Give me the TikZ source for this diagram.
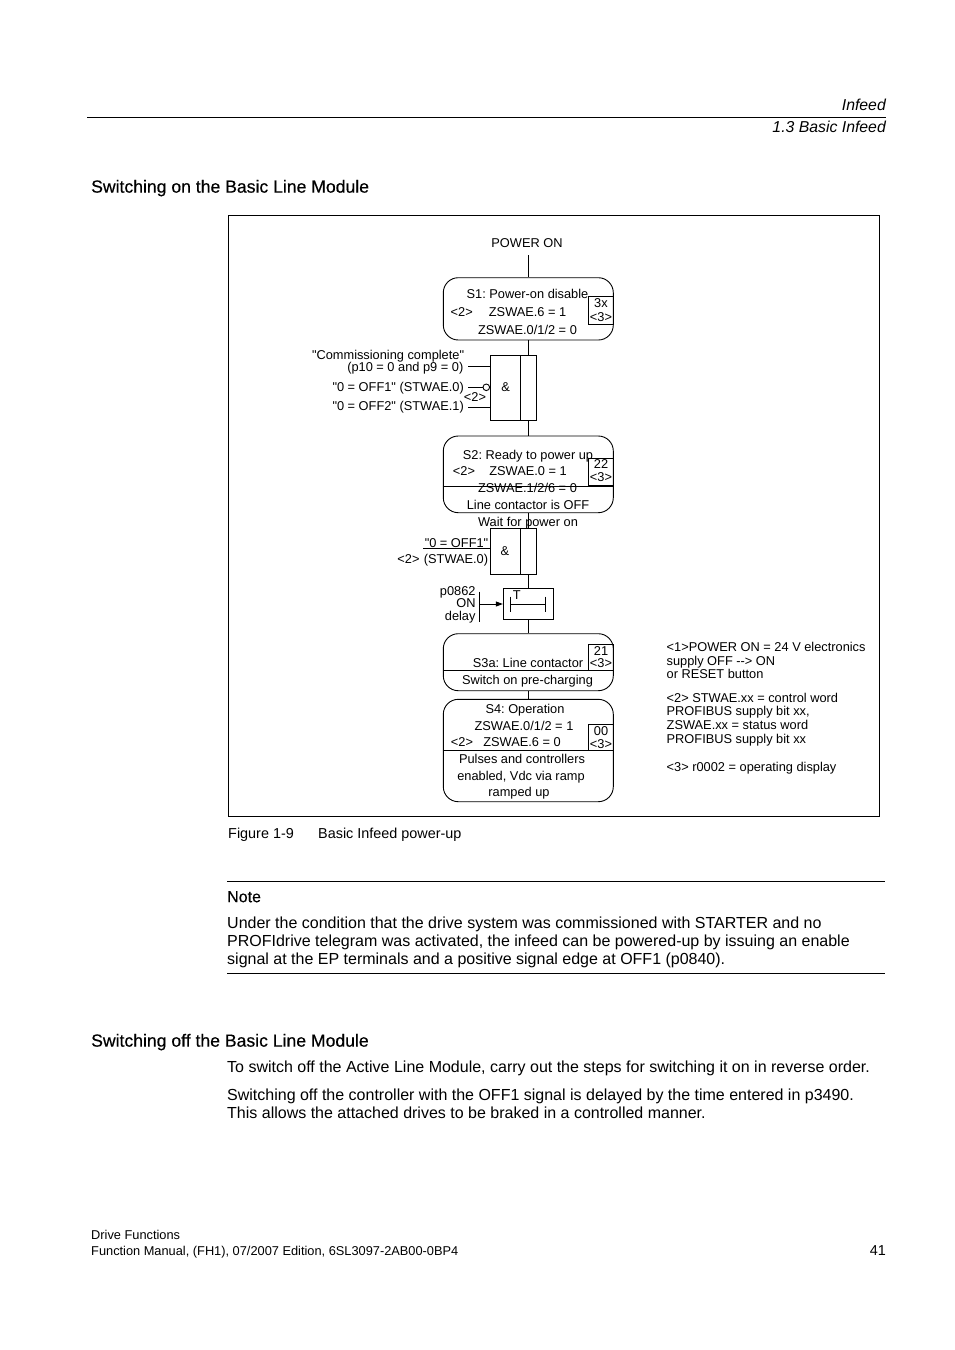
\documentclass[tikz,border=0pt]{standalone}
\usepackage{fontspec}
\setmainfont{Liberation Sans}
\newfontfamily\qfont{Liberation Sans}
\newfontfamily\headfont{Liberation Sans}[FakeBold=0.4]
\usetikzlibrary{arrows.meta}
\newcommand{\qq}{{\qfont"}}
\begin{document}
\frenchspacing
\begin{tikzpicture}[x=1pt,y=-1pt,
  dg/.style={font=\fontsize{12.8}{15}\selectfont, inner sep=0pt, anchor=mid, yshift=-2.5pt},
  dgl/.style={dg, anchor=mid west},
  dgr/.style={dg, anchor=mid east},
  body/.style={font=\fontsize{16}{18}\selectfont, inner sep=0pt, anchor=mid west, yshift=-3.5pt},
  head/.style={font=\headfont\fontsize{17.6}{20}\selectfont, inner sep=0pt, anchor=mid west, yshift=-4pt},
  hdr/.style={font=\fontsize{15.8}{18}\selectfont\itshape, inner sep=0pt, anchor=mid east, yshift=-3.5pt},
  state/.style={draw, rounded corners=15pt, minimum width=170pt, inner sep=0pt, line width=0.9pt},
  gate/.style={draw, minimum width=46pt, inner sep=0pt, line width=0.9pt},
  codebox/.style={draw, minimum width=24.6pt, inner sep=0pt, line width=0.9pt},
  wire/.style={line width=0.9pt},
  rule/.style={line width=1pt},
]
\useasboundingbox (0,0) rectangle (954,1350);

% ---------- page header ----------
\node[hdr] (hd1) at (886,104) {Infeed};
\node[hdr] (hd2) at (886,126) {1.3 Basic Infeed};
\coordinate (hl1) at (87,117);
\coordinate (hl2) at (886,117);
\draw[rule] (hl1) -- (hl2);

\node[head] (h1) at (91,186) {Switching on the Basic Line Module};

% ---------- figure frame ----------
\node[draw, line width=0.9pt, minimum width=651pt, minimum height=601pt, inner sep=0pt] (frame) at (553.5,515.5) {};

% ---------- POWER ON ----------
\node[dg] (pon) at (527,242) {POWER ON};
\coordinate (ponb) at (528.3,255);

% ---------- S1 ----------
\node[state, minimum height=62.3pt] (s1) at (528.3,308.85) {};
\node[codebox, minimum height=27.6pt] (c1) at (601,310.5) {};
\node[dg] (s1a) at (527.5,293.3) {S1: Power-on disable};
\node[dg] (s1b) at (461.7,311.7) {<2>};
\node[dg] (s1c) at (527.6,311.7) {ZSWAE.6 = 1};
\node[dg] (s1d) at (527.5,329.3) {ZSWAE.0/1/2 = 0};
\node[dg] (c1a) at (601,302.7) {3x};
\node[dg] (c1b) at (601,316) {<3>};
\draw[wire] (ponb) -- (ponb |- s1.north);

% ---------- AND gate 1 ----------
\node[gate, minimum height=65pt] (g1) at (513,387.5) {};
\draw[wire] (520.7,355) -- (520.7,420);
\node[dg] (g1amp) at (505.7,386.7) {\&};
\draw[wire] (s1.south -| ponb) -- (g1.north -| ponb);
\coordinate (i1) at (468,366.7);
\coordinate (i2) at (468,387.3);
\coordinate (i3) at (468,407.7);
\node[circle, draw, line width=0.9pt, minimum size=6.6pt, inner sep=0pt] (neg) at (486.3,387.3) {};
\draw[wire] (i1) -- (i1 -| g1.west);
\draw[wire] (i2) -- (neg.west);
\draw[wire] (neg.east) -- (neg.east -| g1.west);
\draw[wire] (i3) -- (i3 -| g1.west);
\node[dg] (g1n) at (475,396.7) {<2>};
\node[dgr] (l1a) at (464.3,354) {\qq Commissioning complete\qq};
\node[dgr] (l1b) at (463.5,366.5) {(p10 = 0 and p9 = 0)};
\node[dgr] (l1c) at (464,386.7) {\qq 0 = OFF1\qq\ (STWAE.0)};
\node[dgr] (l1d) at (464,405.7) {\qq 0 = OFF2\qq\ (STWAE.1)};

% ---------- S2 ----------
\node[state, minimum height=76.7pt] (s2) at (528.3,474.35) {};
\draw[wire] (s2.west |- 0,486) -- (s2.east |- 0,486);
\node[codebox, minimum height=27pt] (c2) at (601,471.5) {};
\draw[wire] (g1.south -| ponb) -- (s2.north -| ponb);
\node[dg] (s2a) at (528,454) {S2: Ready to power up};
\node[dg] (s2b) at (464,470.7) {<2>};
\node[dg] (s2c) at (528,470.7) {ZSWAE.0 = 1};
\node[dg] (s2d) at (527.5,487.3) {ZSWAE.1/2/6 = 0};
\node[dg] (s2e) at (528,504) {Line contactor is OFF};
\node[dg] (c2a) at (601,463.7) {22};
\node[dg] (c2b) at (601,476.7) {<3>};

% ---------- AND gate 2 ----------
\node[gate, minimum height=46pt] (g2) at (513,551.5) {};
\draw[wire] (520.7,528.5) -- (520.7,574.5);
\node[dg] (g2amp) at (505,550) {\&};
\draw[wire] (s2.south -| ponb) -- (g2.north -| ponb);
\node[dg] (wait) at (528,521) {Wait for power on};
\coordinate (i4) at (423,548);
\draw[wire] (i4) -- (i4 -| g2.west);
\node[dg] (l2a) at (456.5,542.5) {\qq 0 = OFF1\qq};
\node[dg] (l2b) at (456,558) {(STWAE.0)};
\node[dg] (l2c) at (408.5,558) {<2>};

% ---------- ON delay ----------
\node[draw, line width=0.9pt, minimum width=50pt, minimum height=31pt, inner sep=0pt] (tb) at (528.3,603.5) {};
\draw[wire] (g2.south -| ponb) -- (tb.north -| ponb);
\node[dg] (tbt) at (516.7,594.5) {T};
\draw[wire] (510.7,604) -- (545,604);
\draw[wire] (510.7,596.7) -- (510.7,611.7);
\draw[wire] (545,596.7) -- (545,611.7);
\coordinate (dv1) at (479.3,591.7);
\coordinate (dv2) at (479.3,621.7);
\draw[wire] (dv1) -- (dv2);
\coordinate (dva) at (479.3,604);
\draw[wire, -{Triangle[length=7pt,width=5pt]}] (dva) -- (dva -| tb.west);
\node[dgr] (p1) at (475.7,590) {p0862};
\node[dgr] (p2) at (475.7,602.5) {ON};
\node[dgr] (p3) at (475.7,615) {delay};

% ---------- S3a ----------
\node[state, minimum height=57pt] (s3) at (528.3,662.2) {};
\draw[wire] (s3.west |- 0,670.5) -- (s3.east |- 0,670.5);
\node[codebox, minimum height=25.5pt] (c3) at (601,657.5) {};
\draw[wire] (tb.south -| ponb) -- (s3.north -| ponb);
\node[dg] (s3a) at (528,662.3) {S3a: Line contactor};
\node[dg] (s3b) at (527.5,679.3) {Switch on pre-charging};
\node[dg] (c3a) at (601,650.7) {21};
\node[dg] (c3b) at (601,662.8) {<3>};

% ---------- S4 ----------
\node[state, minimum height=102.4pt] (s4) at (528.3,750.5) {};
\draw[wire] (s4.west |- 0,750.7) -- (s4.east |- 0,750.7);
\node[codebox, minimum height=26.7pt] (c4) at (601,737.35) {};
\draw[wire] (s3.south -| ponb) -- (s4.north -| ponb);
\node[dg] (s4a) at (525,708.5) {S4: Operation};
\node[dg] (s4b) at (524,725) {ZSWAE.0/1/2 = 1};
\node[dg] (s4c) at (462,741) {<2>};
\node[dg] (s4d) at (522,741) {ZSWAE.6 = 0};
\node[dg] (s4e) at (522,758.3) {Pulses and controllers};
\node[dg] (s4f) at (521,775) {enabled, Vdc via ramp};
\node[dg] (s4g) at (519,791.7) {ramped up};
\node[dg] (c4a) at (601,730.5) {00};
\node[dg] (c4b) at (601,743.5) {<3>};

% ---------- legend ----------
\node[dgl] (n1) at (666.5,646.5) {<1>POWER ON = 24 V electronics};
\node[dgl] (n2) at (666.5,660) {supply OFF {-}{-}> ON};
\node[dgl] (n3) at (666.5,673.3) {or RESET button};
\node[dgl] (n4) at (666.5,697) {<2> STWAE.xx = control word};
\node[dgl] (n5) at (666.5,710.7) {PROFIBUS supply bit xx,};
\node[dgl] (n6) at (666.5,724.3) {ZSWAE.xx = status word};
\node[dgl] (n7) at (666.5,738) {PROFIBUS supply bit xx};
\node[dgl] (n8) at (666.5,766.5) {<3> r0002 = operating display};

% ---------- caption ----------
\node[font=\fontsize{14.4}{17}\selectfont, inner sep=0pt, anchor=mid west, yshift=-3pt] (cap1) at (228,833) {Figure 1-9};
\node[font=\fontsize{14.4}{17}\selectfont, inner sep=0pt, anchor=mid west, yshift=-3pt] (cap2) at (318,833) {Basic Infeed power-up};

% ---------- note ----------
\coordinate (nl1) at (227,881);
\coordinate (nl2) at (885,881);
\draw[rule] (nl1) -- (nl2);
\node[body, font=\headfont\fontsize{16}{18}\selectfont] (note) at (227,896) {Note};
\node[body] (b1) at (227,922) {Under the condition that the drive system was commissioned with STARTER and no};
\node[body] (b2) at (227,940) {PROFIdrive telegram was activated, the infeed can be powered-up by issuing an enable};
\node[body] (b3) at (227,958) {signal at the EP terminals and a positive signal edge at OFF1 (p0840).};
\coordinate (nl3) at (227,973);
\coordinate (nl4) at (885,973);
\draw[rule] (nl3) -- (nl4);

% ---------- switching off ----------
\node[head] (h2) at (91,1040) {Switching off the Basic Line Module};
\node[body] (b4) at (227,1066) {To switch off the Active Line Module, carry out the steps for switching it on in reverse order.};
\node[body] (b5) at (227,1094) {Switching off the controller with the OFF1 signal is delayed by the time entered in p3490.};
\node[body] (b6) at (227,1112) {This allows the attached drives to be braked in a controlled manner.};

% ---------- footer ----------
\node[font=\fontsize{12.8}{15}\selectfont, inner sep=0pt, anchor=mid west, yshift=-2.5pt] (f1) at (91,1234) {Drive Functions};
\node[font=\fontsize{12.8}{15}\selectfont, inner sep=0pt, anchor=mid west, yshift=-2.5pt] (f2) at (91,1250) {Function Manual, (FH1), 07/2007 Edition, 6SL3097-2AB00-0BP4};
\node[font=\fontsize{14.4}{17}\selectfont, inner sep=0pt, anchor=mid east, yshift=-3pt] (f3) at (886,1250) {41};
\end{tikzpicture}
\end{document}
